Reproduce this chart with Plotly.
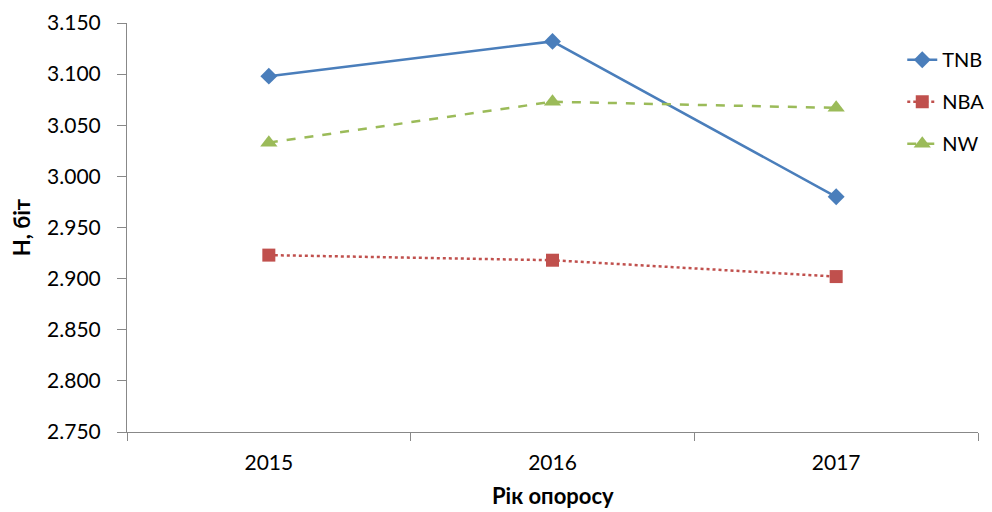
import plotly.graph_objects as go

years = ['2015', '2016', '2017']
tnb = [3.098, 3.132, 2.980]
nba = [2.923, 2.918, 2.902]
nw = [3.033, 3.073, 3.067]

series = [
    (tnb, 'TNB', '#4A7EBB', 'solid', 'diamond', 13),
    (nba, 'NBA', '#C0504D', 'dot', 'square', 13),
    (nw, 'NW', '#9BBB59', 'dash', 'triangle-up', 15),
]

fig = go.Figure()
for ys, name, color, dash, symbol, size in series:
    fig.add_trace(go.Scatter(
        x=years, y=ys, name=name, mode='lines+markers', legendgroup=name,
        line=dict(color=color, width=2.5, dash=dash),
        marker=dict(symbol=symbol, size=size, color=color),
    ))

# the page body adds 8px on the left/top, so the figure is a bit smaller
font = 'Lato, "Open Sans", sans-serif'
fig.update_layout(
    width=984, height=504,
    paper_bgcolor='white', plot_bgcolor='white',
    margin=dict(l=119, r=14, t=15, b=80, autoexpand=False),
    font=dict(family=font, size=21, color='#000000'),
    legend=dict(x=0.911, y=0.958, xanchor='left', yanchor='top',
                bgcolor='rgba(0,0,0,0)', font=dict(size=20),
                tracegroupgap=13),
    showlegend=True,
)
fig.add_annotation(
    text='<b>Рік опоросу</b>', xref='paper', yref='paper',
    x=0.5, y=-0.156, xanchor='center', yanchor='middle',
    showarrow=False, font=dict(size=22),
)
fig.update_xaxes(
    type='category', range=[-0.5, 2.5], automargin=False,
    showline=True, linecolor='#888888', linewidth=1,
    ticks='outside', tickson='boundaries', ticklen=8, tickcolor='#888888',
    ticklabelstandoff=12,
    showgrid=False, zeroline=False,
)
fig.update_yaxes(
    range=[2.75, 3.15], dtick=0.05, tickformat='.3f', automargin=False,
    showline=True, linecolor='#888888', linewidth=1,
    ticks='outside', ticklen=9, tickcolor='#888888',
    ticklabelstandoff=12,
    showgrid=False, zeroline=False,
    title=dict(text='<b>Н, біт</b>', font=dict(size=22), standoff=21),
)

fig.write_html('out.html')
